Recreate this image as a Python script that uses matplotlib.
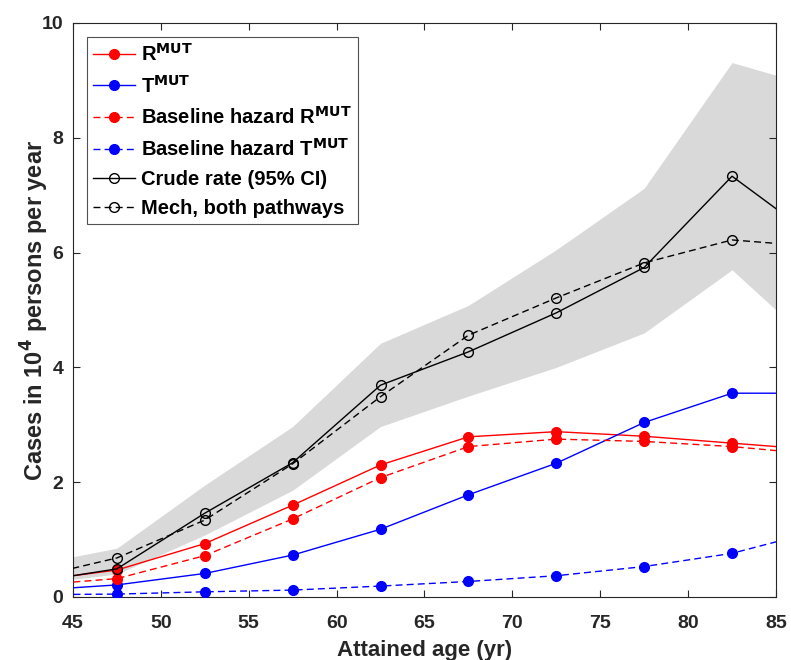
import numpy as np
import matplotlib.pyplot as plt

# attained age (midpoints of 5-yr bands); end points fall outside the axes
age = [42.5, 47.5, 52.5, 57.5, 62.5, 67.5, 72.5, 77.5, 82.5, 87.5]

r_mut = [0.27, 0.47, 0.93, 1.60, 2.30, 2.79, 2.88, 2.80, 2.68, 2.56]
t_mut = [0.11, 0.21, 0.41, 0.73, 1.18, 1.78, 2.33, 3.04, 3.55, 3.55]
base_r = [0.20, 0.32, 0.72, 1.36, 2.08, 2.62, 2.75, 2.71, 2.62, 2.48]
base_t = [0.04, 0.05, 0.09, 0.12, 0.19, 0.27, 0.37, 0.53, 0.76, 1.16]
crude = [0.25, 0.49, 1.46, 2.34, 3.69, 4.27, 4.95, 5.74, 7.33, 6.20]
mech = [0.32, 0.68, 1.34, 2.32, 3.49, 4.56, 5.21, 5.82, 6.22, 6.10]
ci_lo = [0.22, 0.40, 1.08, 1.86, 2.97, 3.50, 4.00, 4.60, 5.70, 4.30]
ci_hi = [0.55, 0.85, 1.95, 2.97, 4.42, 5.08, 6.05, 7.12, 9.31, 8.87]

plt.rcParams['font.family'] = ['Liberation Sans', 'DejaVu Sans']
plt.rcParams['font.weight'] = 'bold'
plt.rcParams['mathtext.default'] = 'bf'

fig = plt.figure(figsize=(7.91, 6.60), dpi=100)
ax = fig.add_axes([0.0923, 0.0955, 0.8887, 0.8697])

mk = slice(1, -1)

ax.fill_between(age, ci_lo, ci_hi, color='#d9d9d9', lw=0, zorder=1)

ax.plot(age, r_mut, '-', color='#ff0000', lw=1, marker='o', ms=7,
        markevery=mk, label=r'R$^{\mathbf{MUT}}$', zorder=3)
ax.plot(age, t_mut, '-', color='#0000ff', lw=1, marker='o', ms=7,
        markevery=mk, label=r'T$^{\mathbf{MUT}}$', zorder=3)
ax.plot(age, base_r, '--', color='#ff0000', lw=1, marker='o', ms=7,
        markevery=mk, dashes=(5, 3), label=r'Baseline hazard R$^{\mathbf{MUT}}$', zorder=3)
ax.plot(age, base_t, '--', color='#0000ff', lw=1, marker='o', ms=7,
        markevery=mk, dashes=(5, 3), label=r'Baseline hazard T$^{\mathbf{MUT}}$', zorder=3)
ax.plot(age, crude, '-', color='black', lw=1, marker='o', ms=7, mfc='none',
        markevery=mk, label='Crude rate (95% CI)', zorder=4)
ax.plot(age, mech, '--', color='black', lw=1, marker='o', ms=7, mfc='none',
        markevery=mk, dashes=(5, 3), label='Mech, both pathways', zorder=4)

ax.set_xlim(45, 85)
ax.set_ylim(0, 10)
ax.set_xticks(np.arange(45, 86, 5))
ax.set_yticks(np.arange(0, 11, 2))
ax.tick_params(direction='in', top=True, right=True, length=5, width=0.8,
               labelsize=14, color='#262626', labelcolor='#262626')
ax.tick_params(axis='x', pad=13)
ax.tick_params(axis='y', pad=7)
for lbl in ax.get_xticklabels() + ax.get_yticklabels():
    lbl.set_fontweight('bold')
for s in ax.spines.values():
    s.set_color('#262626')
    s.set_linewidth(0.8)

ax.set_xlabel('Attained age (yr)', fontsize=16, fontweight='bold', color='#262626')
ax.set_ylabel(r'Cases in 10$^{\mathbf{4}}$ persons per year', fontsize=17,
              fontweight='bold', color='#262626')
ax.xaxis.set_label_coords(0.5, -0.075)
ax.yaxis.set_label_coords(-0.032, 0.5)

leg = ax.legend(loc='upper left', bbox_to_anchor=(0.02, 0.976),
                frameon=True, fancybox=False, edgecolor='#262626',
                handlelength=2.1, handletextpad=0.3, labelspacing=0.49,
                borderpad=0.3, borderaxespad=0,
                prop={'weight': 'bold', 'size': 14.5})
leg.get_frame().set_linewidth(0.8)

fig.savefig('out.png', dpi=100)
